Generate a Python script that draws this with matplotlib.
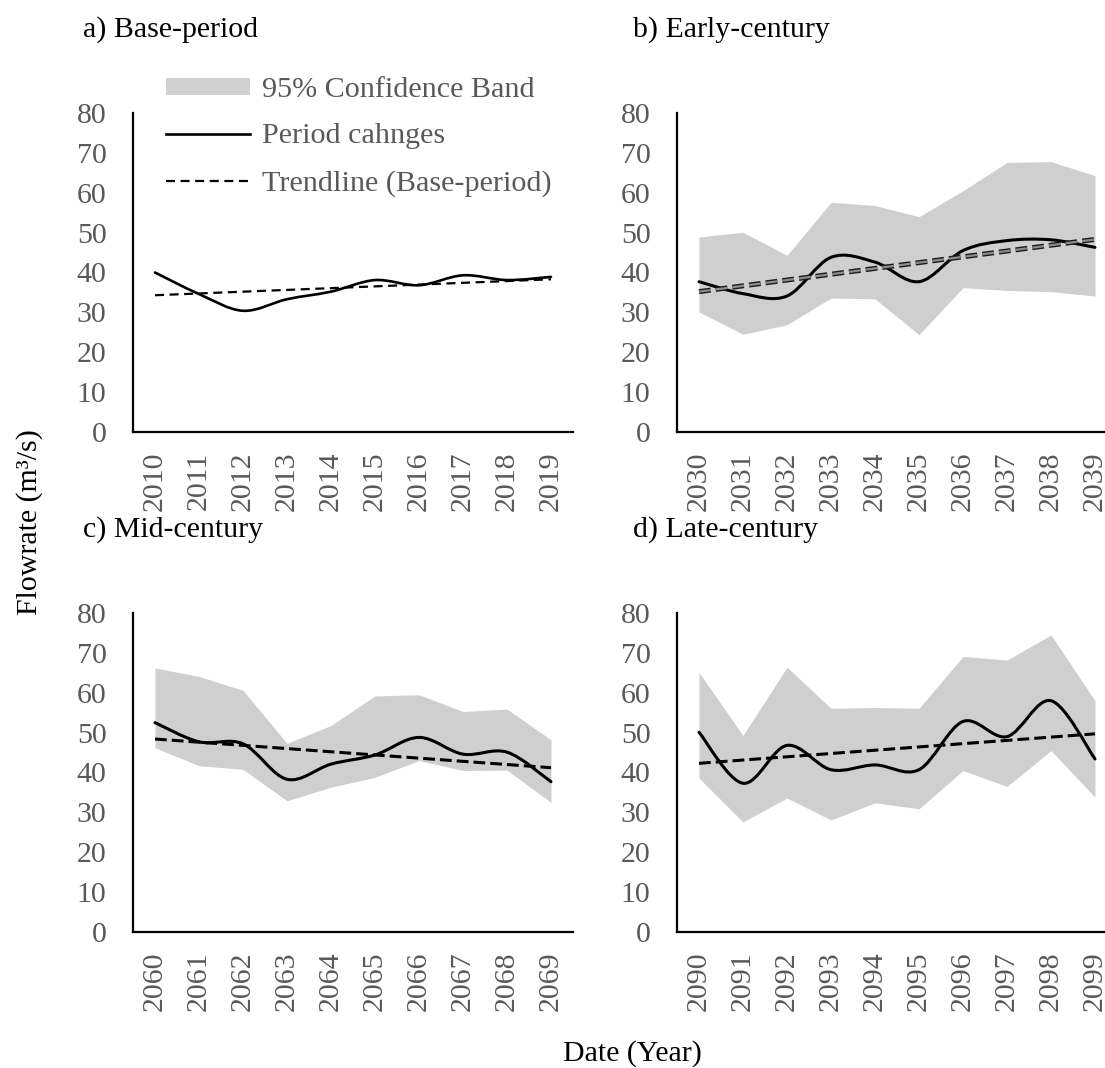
import numpy as np
import matplotlib
matplotlib.use("Agg")
import matplotlib.pyplot as plt
from matplotlib.path import Path
from matplotlib.patches import PathPatch, Patch
from matplotlib.lines import Line2D
import matplotlib.patheffects as pe

plt.rcParams['font.family'] = ['Liberation Serif', 'DejaVu Serif']
plt.rcParams['lines.scale_dashes'] = False

# values (m3/s)
years_a = ['2010', '2011', '2012', '2013', '2014', '2015', '2016', '2017', '2018', '2019']
flow_a = [40.0, 34.6, 30.4, 33.3, 35.2, 38.1, 36.8, 39.3, 38.1, 38.9]
trend_a = [34.3, 38.3]

years_b = ['2030', '2031', '2032', '2033', '2034', '2035', '2036', '2037', '2038', '2039']
flow_b = [37.7, 34.7, 34.1, 43.8, 42.6, 37.7, 45.5, 48.0, 48.2, 46.3]
upper_b = [48.9, 50.1, 44.3, 57.6, 56.8, 54.0, 60.5, 67.6, 67.8, 64.3]
lower_b = [30.1, 24.5, 26.9, 33.6, 33.4, 24.4, 36.2, 35.5, 35.2, 34.1]
trend_b = [35.2, 48.3]

years_c = ['2060', '2061', '2062', '2063', '2064', '2065', '2066', '2067', '2068', '2069']
flow_c = [52.5, 47.7, 47.2, 38.3, 42.1, 44.4, 48.8, 44.6, 45.1, 37.7]
upper_c = [66.2, 64.1, 60.6, 47.3, 51.8, 59.2, 59.5, 55.3, 55.9, 48.2]
lower_c = [46.2, 41.7, 40.8, 32.9, 36.3, 38.8, 43.0, 40.5, 40.6, 32.5]
trend_c = [48.4, 41.2]

years_d = ['2090', '2091', '2092', '2093', '2094', '2095', '2096', '2097', '2098', '2099']
flow_d = [50.1, 37.3, 46.8, 40.7, 41.9, 40.7, 52.8, 49.0, 58.0, 43.4]
upper_d = [65.1, 49.3, 66.4, 56.1, 56.3, 56.1, 69.1, 68.2, 74.5, 58.0]
lower_d = [38.6, 27.6, 33.6, 28.1, 32.4, 30.9, 40.5, 36.5, 45.5, 33.8]
trend_d = [42.3, 49.7]

titles = ['a) Base-period', 'b) Early-century', 'c) Mid-century', 'd) Late-century']

BAND = '#d0cfcf'
TICK_GREY = '#595959'
FS = 21.5

W, H = 1105, 1068
fig = plt.figure(figsize=(W / 100, H / 100), dpi=100)


def smooth_path(x, y):
    # excel style smoothed line: cubic bezier through every point
    pts = np.column_stack([x, y]).astype(float)
    ext = np.vstack([pts[0], pts, pts[-1]])
    verts = [pts[0]]
    codes = [Path.MOVETO]
    for i in range(len(pts) - 1):
        p0, p1, p2, p3 = ext[i], ext[i + 1], ext[i + 2], ext[i + 3]
        verts += [p1 + (p2 - p0) / 6, p2 - (p3 - p1) / 6, p2]
        codes += [Path.CURVE4] * 3
    return Path(verts, codes)


def make_ax(left, top, years, flow, trend, upper=None, lower=None,
            lw=2.2, dash=(8.5, 3.6), dlw=2.2, grey_trend=False):
    ax = fig.add_axes([left / W, 1 - (top + 319) / H, 440 / W, 319 / H])
    x = np.arange(len(years))
    if upper is not None:
        ax.fill_between(x, lower, upper, color=BAND, lw=0, zorder=1)
    ax.add_patch(PathPatch(smooth_path(x, flow), fill=False, lw=lw,
                           ec='black', zorder=3, capstyle='round'))
    if grey_trend:
        ax.plot([x[0], x[-1]], trend, color='#8c8c8c', lw=1.6,
                linestyle=(0, dash), zorder=4,
                path_effects=[pe.Stroke(linewidth=3.6, foreground='#1a1a1a'), pe.Normal()])
    else:
        ax.plot([x[0], x[-1]], trend, color='black', lw=dlw,
                linestyle=(0, dash), zorder=4)
    ax.set_xlim(-0.5, len(years) - 0.5)
    ax.set_ylim(0, 80)
    ax.set_yticks(range(0, 81, 10))
    ax.set_xticks(x)
    ax.set_xticklabels(years, rotation=90)
    ax.tick_params(axis='both', length=0, labelsize=FS, labelcolor=TICK_GREY)
    ax.tick_params(axis='x', pad=14)
    ax.tick_params(axis='y', pad=19)
    for s in ['top', 'right']:
        ax.spines[s].set_visible(False)
    for s in ['left', 'bottom']:
        ax.spines[s].set_linewidth(1.6)
        ax.spines[s].set_color('black')
    ax.patch.set_alpha(0)
    return ax


ax_a = make_ax(133, 113, years_a, flow_a, trend_a, lw=1.9, dash=(6.5, 4.0), dlw=1.6)
ax_b = make_ax(677, 113, years_b, flow_b, trend_b, upper_b, lower_b, grey_trend=True)
ax_c = make_ax(133, 613, years_c, flow_c, trend_c, upper_c, lower_c)
ax_d = make_ax(677, 613, years_d, flow_d, trend_d, upper_d, lower_d)

# panel titles
for (px, py), t in zip([(83, 37), (633, 37), (83, 537), (633, 537)], titles):
    fig.text(px / W, 1 - py / H, t, fontsize=FS, color='black', va='baseline', ha='left')

# legend
handles = [Patch(facecolor=BAND, edgecolor='none'),
           Line2D([], [], color='black', lw=1.9),
           Line2D([], [], color='black', lw=1.6, linestyle=(0, (6.5, 4.0)))]
labels = ['95% Confidence Band', 'Period cahnges', 'Trendline (Base-period)']
leg = ax_a.legend(handles, labels, loc='upper left',
                  bbox_to_anchor=(166 / W, 1 - 77 / H), bbox_transform=fig.transFigure,
                  frameon=False, fontsize=21.7, handlelength=2.8, handleheight=0.5,
                  handletextpad=0.38, labelspacing=0.68, borderpad=0, borderaxespad=0)
for txt in leg.get_texts():
    txt.set_color(TICK_GREY)

fig.text(30 / W, 1 - 522 / H, 'Flowrate (m³/s)', rotation=90, fontsize=FS,
         ha='center', va='center', color='black')
fig.text(632 / W, 1 - 1061 / H, 'Date (Year)', fontsize=FS, ha='center',
         va='baseline', color='black')

fig.savefig('out.png', dpi=100)
